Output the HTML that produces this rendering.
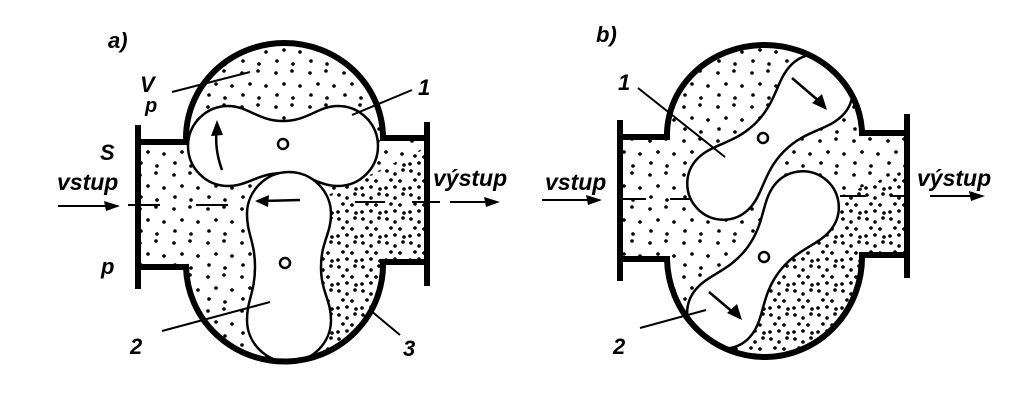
<!DOCTYPE html>
<html><head><meta charset="utf-8"><style>
html,body{margin:0;padding:0;background:#fff}
svg{display:block}
text{font-family:"Liberation Sans",sans-serif;font-style:italic;font-weight:bold;fill:#000}
</style></head><body>
<svg width="1024" height="406" viewBox="0 0 1024 406" xmlns="http://www.w3.org/2000/svg">
<defs>
<pattern id="sp" width="34" height="34" patternUnits="userSpaceOnUse">
<circle cx="4" cy="5" r="1.8"/><circle cx="20" cy="3" r="1.8"/><circle cx="12" cy="16" r="1.8"/><circle cx="28" cy="18" r="1.8"/><circle cx="5" cy="27" r="1.8"/><circle cx="21" cy="30" r="1.8"/>
</pattern>
<pattern id="dp" width="24" height="24" patternUnits="userSpaceOnUse">
<circle cx="3" cy="3" r="1.8"/><circle cx="11" cy="6" r="1.8"/><circle cx="19" cy="2" r="1.8"/><circle cx="7" cy="12" r="1.8"/><circle cx="16" cy="13" r="1.8"/><circle cx="2" cy="20" r="1.8"/><circle cx="11" cy="19" r="1.8"/><circle cx="20" cy="21" r="1.8"/>
</pattern>
<clipPath id="cA"><path d="M138 142 H186 A98.5 95 0 0 1 383 138 H427 V262 H383 A98.5 97 0 0 1 186 267 H138 Z"/></clipPath>
<clipPath id="cB"><path d="M620 137 H667 A97.5 90 0 0 1 862 133 H907 V255 H862 A97.5 100 0 0 1 667 259 H620 Z"/></clipPath>
</defs>

<!-- Figure a -->
<g clip-path="url(#cA)">
<rect x="130" y="40" width="300" height="330" fill="url(#sp)"/>
<path d="M318 200 Q330 330 300 380 L440 380 L440 140 L380 170 Z" fill="#fff"/>
<path d="M318 200 Q330 330 300 380 L440 380 L440 140 L380 170 Z" fill="url(#dp)"/>
<g fill="#fff" stroke="#000" stroke-width="2.5">
<path transform="translate(283,146)" d="M-95 0 C-95 -22,-77 -40,-55 -40 C-35 -40,-25 -25,0 -25 C25 -25,35 -40,55 -40 C77 -40,95 -22,95 0 C95 22,77 40,55 40 C35 40,25 27,0 27 C-25 27,-35 40,-55 40 C-77 40,-95 22,-95 0 Z"/>
<path transform="translate(289,267) rotate(90)" d="M-95 0 C-95 -23,-76 -42,-53 -42 C-33 -42,-25 -32,0 -32 C25 -32,33 -42,53 -42 C76 -42,95 -23,95 0 C95 23,76 42,53 42 C33 42,25 34,0 34 C-25 34,-33 42,-53 42 C-76 42,-95 23,-95 0 Z"/>
</g>
</g>
<circle cx="283" cy="144" r="5" fill="#fff" stroke="#000" stroke-width="2.5"/>
<circle cx="285" cy="263" r="5" fill="#fff" stroke="#000" stroke-width="2.5"/>
<g fill="none" stroke="#000" stroke-width="6" stroke-linecap="square">
<path d="M186 140 V138 A98.5 95 0 0 1 383 138"/>
<path d="M186 267 A98.5 97 0 0 0 383 262"/>
<path d="M138 142 H186 M138 267 H186 M383 138 H427 M383 262 H427"/>
<path d="M138 128 V286 M427 125 V283"/>
</g>
<g stroke="#000" stroke-width="2" fill="none">
<path d="M58 206 H118 M128 205 H160 M196 205 H228 M355 202 H385 M412 202 H440 M450 202 H495"/>
<path d="M172 92 L250 72 M412 90 L352 115 M162 331 L270 302 M400 335 L370 310"/>
<path d="M222 170 Q214 148 217 128" stroke-width="2.5"/>
<path d="M300 200 L262 201" stroke-width="2.5"/>
</g>
<g fill="#000">
<path d="M120 206 L104 201 L106 211 Z"/><path d="M500 202 L484 197 L486 207 Z"/>
<path d="M217 120 L211 136 L223 135 Z"/><path d="M255 201 L269 195 L268 207 Z"/>
</g>
<text x="108" y="48" font-size="22" font-weight="normal">a)</text>
<text x="140" y="92" font-size="22">V</text>
<text x="145" y="112" font-size="20">p</text>
<text x="100" y="160" font-size="22">S</text>
<text x="57" y="190" font-size="23">vstup</text>
<text x="101" y="274" font-size="22">p</text>
<text x="418" y="95" font-size="22">1</text>
<text x="433" y="186" font-size="23">výstup</text>
<text x="130" y="354" font-size="22">2</text>
<text x="403" y="356" font-size="22">3</text>

<!-- Figure b -->
<g clip-path="url(#cB)">
<rect x="610" y="40" width="310" height="330" fill="url(#sp)"/>
<path d="M700 360 L760 280 L830 200 L930 160 L930 370 Z" fill="#fff"/>
<path d="M700 360 L760 280 L830 200 L930 160 L930 370 Z" fill="url(#dp)"/>
<g fill="#fff" stroke="#000" stroke-width="2.5">
<path transform="translate(770,137) rotate(-45)" d="M-102 0 C-102 -20,-86 -36,-66 -36 C-45 -36,-30 -20,0 -20 C30 -20,45 -36,66 -36 C86 -36,102 -20,102 0 C102 20,86 36,66 36 C45 36,30 20,0 20 C-30 20,-45 36,-66 36 C-86 36,-102 20,-102 0 Z"/>
<path transform="translate(763,260) rotate(-53)" d="M-102 0 C-102 -20,-86 -36,-66 -36 C-45 -36,-30 -20,0 -20 C30 -20,45 -36,66 -36 C86 -36,102 -20,102 0 C102 20,86 36,66 36 C45 36,30 20,0 20 C-30 20,-45 36,-66 36 C-86 36,-102 20,-102 0 Z"/>
</g>
</g>
<circle cx="763" cy="138" r="5" fill="#fff" stroke="#000" stroke-width="2.5"/>
<circle cx="764" cy="257" r="5" fill="#fff" stroke="#000" stroke-width="2.5"/>
<g fill="none" stroke="#000" stroke-width="6" stroke-linecap="square">
<path d="M667 137 A97.5 90 0 0 1 862 133"/>
<path d="M667 259 A97.5 100 0 0 0 862 255"/>
<path d="M620 137 H667 M620 259 H667 M862 133 H907 M862 255 H907"/>
<path d="M620 123 V278 M907 117 V275"/>
</g>
<g stroke="#000" stroke-width="2" fill="none">
<path d="M542 200 H598 M620 199 H646 M670 199 H690 M840 196 H866 M890 196 H907 M930 196 H975"/>
<path d="M638 88 L725 157 M640 328 L706 310"/>
<path d="M792 78 L820 102" stroke-width="2.5"/>
<path d="M709 292 L735 314" stroke-width="2.5"/>
</g>
<g fill="#000">
<path d="M827 110 L812 103 L822 94 Z"/><path d="M742 320 L727 313 L737 304 Z"/>
<path d="M602 200 L586 195 L588 205 Z"/><path d="M985 196 L969 191 L971 201 Z"/>
</g>
<text x="596" y="42" font-size="22" font-weight="normal">b)</text>
<text x="618" y="90" font-size="22">1</text>
<text x="545" y="190" font-size="23">vstup</text>
<text x="917" y="186" font-size="23">výstup</text>
<text x="613" y="354" font-size="22">2</text>
</svg>
</body></html>
